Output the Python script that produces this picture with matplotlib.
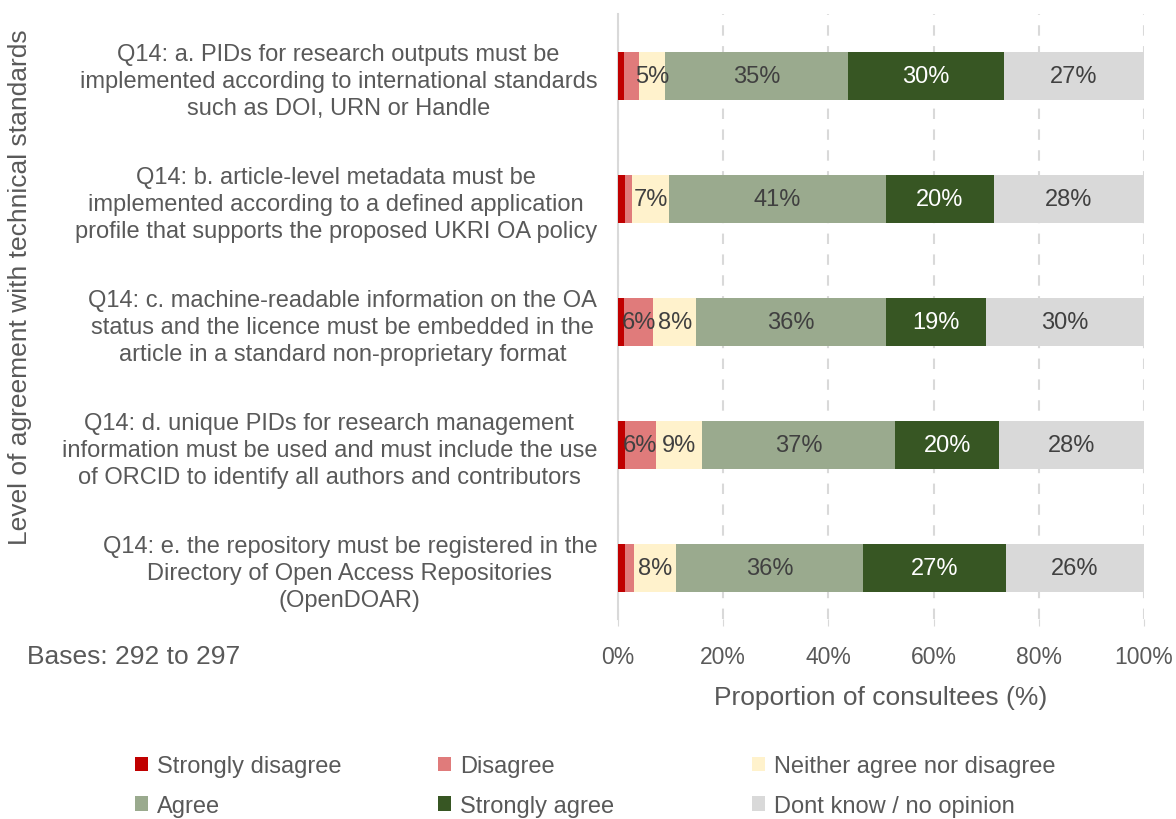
import matplotlib
matplotlib.use("Agg")
import matplotlib.pyplot as plt
from matplotlib.patches import Patch
import numpy as np

plt.rcParams['font.family'] = ['Liberation Sans', 'DejaVu Sans']

categories = [
    "Q14: a. PIDs for research outputs must be\nimplemented according to international standards\nsuch as DOI, URN or Handle",
    "Q14: b. article-level metadata must be\nimplemented according to a defined application\nprofile that supports the proposed UKRI OA policy",
    "Q14: c. machine-readable information on the OA\nstatus and the licence must be embedded in the\narticle in a standard non-proprietary format",
    "Q14: d. unique PIDs for research management\ninformation must be used and must include the use\nof ORCID to identify all authors and contributors",
    "Q14: e. the repository must be registered in the\nDirectory of Open Access Repositories\n(OpenDOAR)",
]
series_names = ["Strongly disagree", "Disagree", "Neither agree nor disagree",
                "Agree", "Strongly agree", "Dont know / no opinion"]
strongly_disagree = [1.1, 1.3, 1.2, 1.3, 1.3]
disagree = [2.9, 1.4, 5.5, 5.9, 1.7]
neither = [4.9, 7.0, 8.2, 8.8, 8.0]
agree = [34.8, 41.2, 36.1, 36.7, 35.6]
strongly_agree = [29.6, 20.5, 19.0, 19.8, 27.2]
dont_know = [26.7, 28.6, 30.0, 27.5, 26.2]
labels_shown = [
    ["", "", "5%", "35%", "30%", "27%"],
    ["", "", "7%", "41%", "20%", "28%"],
    ["", "6%", "8%", "36%", "19%", "30%"],
    ["", "6%", "9%", "37%", "20%", "28%"],
    ["", "", "8%", "36%", "27%", "26%"],
]
colors = ["#C00000", "#E07B7B", "#FFF2CC", "#9AAA8E", "#375623", "#D9D9D9"]
text_colors = ["#404040", "#404040", "#404040", "#404040", "#FFFFFF", "#404040"]

data = [strongly_disagree, disagree, neither, agree, strongly_agree, dont_know]

fig = plt.figure(figsize=(11.76, 8.2), dpi=100)
ax = fig.add_axes([618/1176, 1-620/820, (1144-618)/1176, (620-15)/820])

y = np.arange(len(categories))
left = np.zeros(len(categories))
for i, vals in enumerate(data):
    vals = np.array(vals)
    ax.barh(y, vals, left=left, height=0.39, color=colors[i], zorder=3)
    for j in range(len(categories)):
        lab = labels_shown[j][i]
        if lab:
            ax.text(left[j] + vals[j]/2, y[j], lab, ha='center', va='center',
                    fontsize=17, color=text_colors[i], zorder=4)
    left += vals

ax.set_xlim(0, 100)
ax.set_ylim(4.415, -0.504)
ax.set_xticks([0, 20, 40, 60, 80, 100])
ax.set_xticklabels(["0%", "20%", "40%", "60%", "80%", "100%"], fontsize=16.5, color="#595959")
ax.set_yticks(y)
ax.set_yticklabels(categories, fontsize=17, color="#595959", linespacing=1.3,
                   multialignment='center')
ax.tick_params(axis='y', length=0, pad=15)
ax.tick_params(axis='x', length=5, color="#D9D9D9", pad=14)
ax.xaxis.grid(True, linestyle=(0, (5, 5)), color="#D9D9D9", linewidth=1.5, zorder=0)
for s in ["top", "right", "bottom"]:
    ax.spines[s].set_visible(False)
ax.spines["left"].set_color("#D9D9D9")
ax.spines["left"].set_linewidth(1.5)
ax.set_xlabel("Proportion of consultees (%)", fontsize=19, color="#595959", labelpad=12)

fig.text(20/1176, 1-287/820, "Level of agreement with technical standards", rotation=90,
         ha='center', va='center', fontsize=19, color="#595959")
fig.text(27/1176, 1-657/820, "Bases: 292 to 297", ha='left', va='center',
         fontsize=19, color="#595959")

handles = [Patch(facecolor=c) for c in colors]
columns = [[0, 3], [1, 4], [2, 5]]
col_x = [135, 438, 752]
for cx, idxs in zip(col_x, columns):
    leg = fig.legend([handles[k] for k in idxs], [series_names[k] for k in idxs],
                     ncol=1, loc='center left', bbox_to_anchor=(cx/1176, 1-787/820),
                     frameon=False, fontsize=17, handlelength=0.55, handleheight=0.55,
                     handletextpad=0.4, labelspacing=0.75,
                     borderpad=0, borderaxespad=0)
    for t in leg.get_texts():
        t.set_color("#595959")

fig.savefig("out.png", dpi=100)
